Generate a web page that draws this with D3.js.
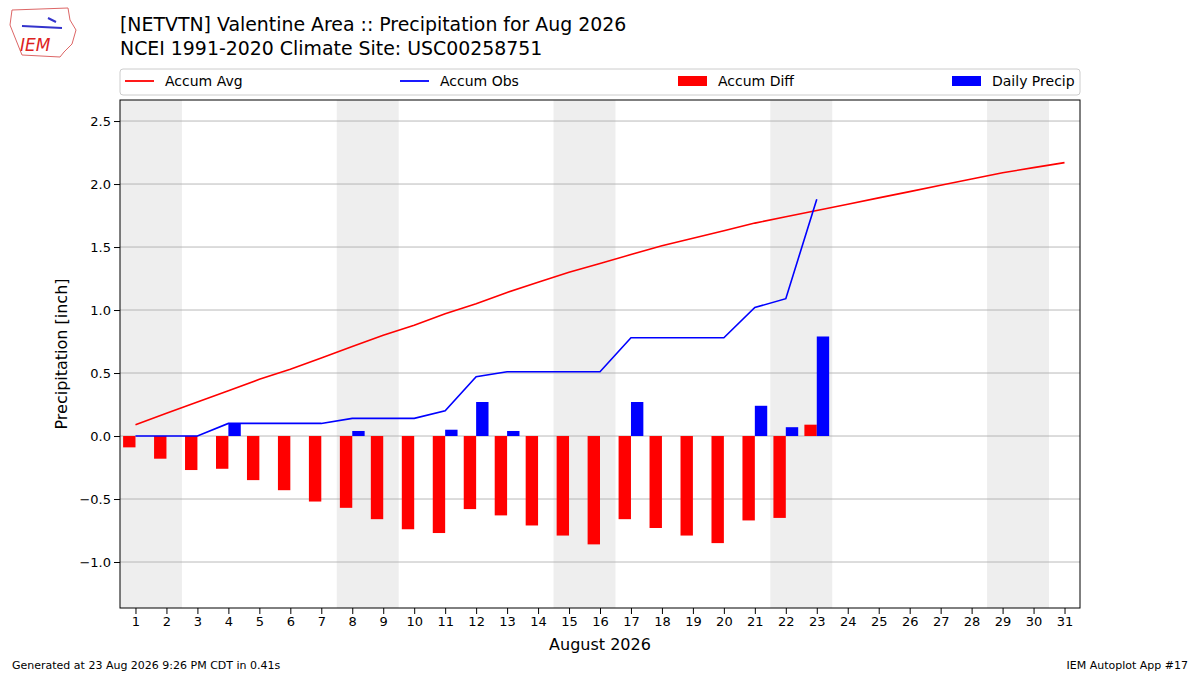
<!DOCTYPE html>
<html><head><meta charset="utf-8">
<script src="https://cdn.jsdelivr.net/npm/d3@7"></script>
<style>body{margin:0;background:#fff}text{font-family:"DejaVu Sans",sans-serif}</style>
</head><body><svg id="c" width="1200" height="675"></svg>
<script>
var days = d3.range(1, 32);
var accumAvg = [0.09,0.18,0.27,0.36,0.45,0.53,0.62,0.71,0.80,0.88,0.97,1.05,1.14,1.22,1.30,1.37,1.44,1.51,1.57,1.63,1.69,1.74,1.79,1.84,1.89,1.94,1.99,2.04,2.09,2.13,2.17];
var accumObs = [0,0,0,0.10,0.10,0.10,0.10,0.14,0.14,0.14,0.20,0.47,0.51,0.51,0.51,0.51,0.78,0.78,0.78,0.78,1.02,1.09,1.88];
var accumDiff = [-0.09,-0.18,-0.27,-0.26,-0.35,-0.43,-0.52,-0.57,-0.66,-0.74,-0.77,-0.58,-0.63,-0.71,-0.79,-0.86,-0.66,-0.73,-0.79,-0.85,-0.67,-0.65,0.09];
var dailyPrecip = [0,0,0,0.10,0,0,0,0.04,0,0,0.05,0.27,0.04,0,0,0,0.27,0,0,0,0.24,0.07,0.79];
var weekends = [1,8,15,22,29];
var yTicks = [-1.0,-0.5,0.0,0.5,1.0,1.5,2.0,2.5];

var svg = d3.select("#c");
var L = 120, R = 1080, T = 100, B = 608;
var x = d3.scaleLinear().domain([0.5, 31.5]).range([L, R]);
var y = d3.scaleLinear().domain([-1.365, 2.667]).range([B, T]);

// weekend shading
svg.selectAll(".wk").data(weekends).enter().append("rect")
	.attr("x", function(d){ return x(d-0.5); }).attr("width", x(2)-x(0))
	.attr("y", T).attr("height", B-T).attr("fill", "#eeeeee");
// grid
svg.selectAll(".gr").data(yTicks).enter().append("line")
	.attr("x1", L).attr("x2", R).attr("y1", function(d){ return y(d); }).attr("y2", function(d){ return y(d); })
	.attr("stroke", "#a8a8a8").attr("stroke-width", 0.8);

var w = x(0.4) - x(0);
svg.selectAll(".diff").data(accumDiff).enter().append("rect")
	.attr("x", function(d, i){ return x(i+1-0.4); }).attr("width", w)
	.attr("y", function(d){ return y(Math.max(0, d)); })
	.attr("height", function(d){ return Math.abs(y(d)-y(0)); }).attr("fill", "red");
svg.selectAll(".daily").data(dailyPrecip).enter().append("rect")
	.attr("x", function(d, i){ return x(i+1); }).attr("width", w)
	.attr("y", function(d){ return y(d); })
	.attr("height", function(d){ return y(0)-y(d); }).attr("fill", "blue");

var line = d3.line().x(function(d, i){ return x(i+1); }).y(function(d){ return y(d); });
svg.append("path").attr("d", line(accumAvg)).attr("fill", "none").attr("stroke", "red").attr("stroke-width", 1.6);
svg.append("path").attr("d", line(accumObs)).attr("fill", "none").attr("stroke", "blue").attr("stroke-width", 1.6);

svg.append("rect").attr("x", L).attr("y", T).attr("width", R-L).attr("height", B-T)
	.attr("fill", "none").attr("stroke", "#000").attr("stroke-width", 1);

var xa = svg.append("g").attr("transform", "translate(0," + B + ")")
	.call(d3.axisBottom(x).tickValues(days).tickFormat(d3.format("d")).tickSizeOuter(0));
var ya = svg.append("g").attr("transform", "translate(" + L + ",0)")
	.call(d3.axisLeft(y).tickValues(yTicks).tickFormat(function(d){ return d3.format(".1f")(d).replace("-", "\u2212"); }).tickSizeOuter(0));
[xa, ya].forEach(function(a){
	a.select(".domain").remove();
	a.selectAll("text").attr("font-size", 13).attr("fill", "#000");
	a.selectAll("line").attr("stroke", "#000");
});

svg.append("text").attr("x", 600).attr("y", 650).attr("text-anchor", "middle").attr("font-size", 16).text("August 2026");
svg.append("text").attr("transform", "translate(67,354) rotate(-90)").attr("text-anchor", "middle").attr("font-size", 16).text("Precipitation [inch]");

svg.append("text").attr("x", 120).attr("y", 31).attr("font-size", 18.9).text("[NETVTN] Valentine Area :: Precipitation for Aug 2026");
svg.append("text").attr("x", 120).attr("y", 55).attr("font-size", 18.9).text("NCEI 1991-2020 Climate Site: USC00258751");

// legend
svg.append("rect").attr("x", 120).attr("y", 69).attr("width", 960).attr("height", 26).attr("rx", 3)
	.attr("fill", "#fff").attr("stroke", "#ccc");
var leg = [
	{name: "Accum Avg", color: "red", type: "line", x: 125},
	{name: "Accum Obs", color: "blue", type: "line", x: 400},
	{name: "Accum Diff", color: "red", type: "bar", x: 678},
	{name: "Daily Precip", color: "blue", type: "bar", x: 952}
];
leg.forEach(function(l){
	if (l.type == "line") svg.append("line").attr("x1", l.x).attr("x2", l.x+29).attr("y1", 81).attr("y2", 81).attr("stroke", l.color).attr("stroke-width", 1.8);
	else svg.append("rect").attr("x", l.x).attr("y", 76).attr("width", 29).attr("height", 10).attr("fill", l.color);
	svg.append("text").attr("x", l.x+40).attr("y", 86).attr("font-size", 14).text(l.name);
});

// logo
svg.append("path").attr("d", "M12,10 L68,8 L70,20 L76,30 L72,44 L64,52 L60,57 L22,55 L16,40 L10,25 Z")
	.attr("fill", "none").attr("stroke", "#d66").attr("stroke-width", 1);
svg.append("text").attr("x", 20).attr("y", 51).attr("font-size", 17).attr("font-style", "italic")
	.attr("font-family", "Liberation Serif").attr("fill", "#d22").text("IEM");
svg.append("path").attr("d", "M22,26 L62,28 M48,18 L56,22").attr("stroke", "#33c").attr("stroke-width", 2);

svg.append("text").attr("x", 12).attr("y", 669).attr("font-size", 11).text("Generated at 23 Aug 2026 9:26 PM CDT in 0.41s");
svg.append("text").attr("x", 1188).attr("y", 669).attr("font-size", 11).attr("text-anchor", "end").text("IEM Autoplot App #17");
</script></body></html>
